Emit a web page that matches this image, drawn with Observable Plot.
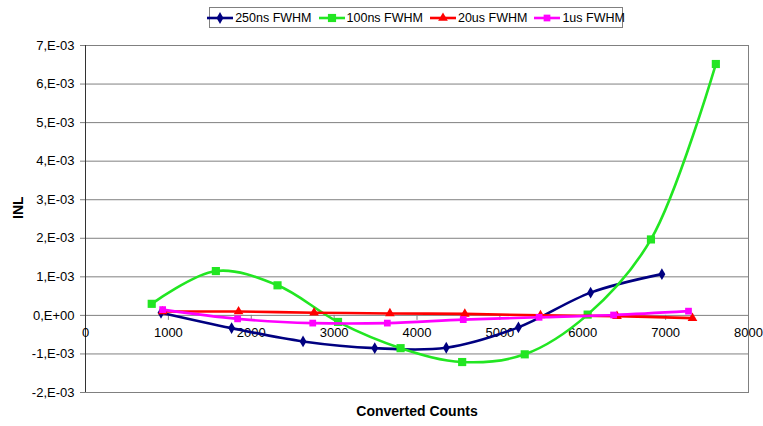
<!DOCTYPE html>
<html><head><meta charset="utf-8">
<script src="https://cdn.jsdelivr.net/npm/d3@7"></script>
<script src="https://cdn.jsdelivr.net/npm/@observablehq/plot@0.6"></script>
<style>
body{margin:0;background:#fff;font-family:"Liberation Sans",Arial,sans-serif;}
#legend{height:34px;position:relative;}
#legend .box{position:absolute;left:209px;top:7px;width:412px;height:19px;border:1px solid #808080;display:flex;align-items:center;justify-content:center;gap:7px;font-size:12.5px;color:#000;}
.item{display:flex;align-items:center;gap:2px;white-space:nowrap;}
.item svg{display:block;}
</style></head><body>
<div id="legend"><div class="box"></div></div>
<div id="chart"></div>
<script>
const seriesNames = ["250ns FWHM", "100ns FWHM", "20us FWHM", "1us FWHM"];
const seriesColors = ["#000080", "#22e622", "#ff0000", "#ff00ff"];
const seriesSymbols = ["diamond", "square", "triangle", "square"];
const seriesR = [3.6, 4.6, 3.6, 3.8];

const x250 = [911, 1763, 2625, 3490, 4353, 5224, 6095, 6955];
const y250 = [0.07e-3, -0.33e-3, -0.675e-3, -0.85e-3, -0.84e-3, -0.31e-3, 0.59e-3, 1.07e-3];

const x100 = [799, 1573, 2317, 3047, 3802, 4545, 5300, 6059, 6823, 7606];
const y100 = [0.30e-3, 1.15e-3, 0.78e-3, -0.17e-3, -0.85e-3, -1.21e-3, -1.01e-3, 0.02e-3, 1.97e-3, 6.52e-3];

const x20 = [931, 1847, 2758, 3673, 4577, 5490, 6413, 7324];
const y20 = [0.10e-3, 0.10e-3, 0.07e-3, 0.05e-3, 0.04e-3, 0.0e-3, -0.02e-3, -0.07e-3];

const x1 = [931, 1835, 2742, 3642, 4558, 5473, 6372, 7276];
const y1 = [0.15e-3, -0.09e-3, -0.2e-3, -0.2e-3, -0.11e-3, -0.05e-3, 0.01e-3, 0.11e-3];

const xTicks = [0, 1000, 2000, 3000, 4000, 5000, 6000, 7000, 8000];
const yTicks = [-2e-3, -1e-3, 0, 1e-3, 2e-3, 3e-3, 4e-3, 5e-3, 6e-3, 7e-3];

const xs = [x250, x100, x20, x1];
const ys = [y250, y100, y20, y1];
const data = seriesNames.map((name, s) => xs[s].map((x, i) => ({series: name, x, y: ys[s][i]})));

const fmtY = d => Math.abs(d) < 1e-9 ? "0,E+00" : Math.round(d * 1e3) + ",E-03";

const marks = [
  Plot.gridY(yTicks, {stroke: "#808080", strokeOpacity: 1}),
  Plot.frame({stroke: "#808080"}),
  Plot.ruleX([0], {stroke: "#333"}),
  Plot.axisY(yTicks, {tickFormat: fmtY, tickSize: 5, tickPadding: 6, label: null, stroke: "#808080", fill: "#000"}),
  Plot.ruleX(xTicks.slice(1, -1), {x: d => d, y1: 0, y2: 0, insetBottom: -5, stroke: "#808080"}),
  Plot.text(xTicks, {x: d => d, y: 0, dy: 17, text: d => String(d), fill: "#000"}),
  Plot.text(["Converted Counts"], {frameAnchor: "bottom", dy: 23, fontWeight: "bold", fontSize: 14, fill: "#000"}),
  Plot.text(["INL"], {frameAnchor: "left", dx: -67, rotate: -90, fontWeight: "bold", fontSize: 14, fill: "#000"})
];
data.forEach((d, s) => {
  marks.push(Plot.line(d, {x: "x", y: "y", stroke: seriesColors[s], strokeWidth: 2.6, curve: "catmull-rom"}));
  marks.push(Plot.dot(d, {x: "x", y: "y", symbol: seriesSymbols[s], r: seriesR[s], fill: seriesColors[s], stroke: "none"}));
});

const chart = Plot.plot({
  width: 763, height: 392,
  marginTop: 11, marginLeft: 85, marginRight: 15, marginBottom: 34,
  x: {domain: [0, 8000], axis: null},
  y: {domain: [-2e-3, 7e-3]},
  style: {fontFamily: '"Liberation Sans", Arial, sans-serif', fontSize: "13px", color: "#000", background: "#fff"},
  marks
});
document.getElementById("chart").appendChild(chart);

// legend
const box = document.querySelector("#legend .box");
seriesNames.forEach((name, s) => {
  const item = document.createElement("div");
  item.className = "item";
  const sym = {diamond: d3.symbolDiamond, square: d3.symbolSquare, triangle: d3.symbolTriangle}[seriesSymbols[s]];
  const path = d3.symbol(sym, Math.PI * seriesR[s] * seriesR[s])();
  item.innerHTML = `<svg width="26" height="12"><line x1="0" x2="26" y1="6" y2="6" stroke="${seriesColors[s]}" stroke-width="2.6"/><path d="${path}" transform="translate(13,6)" fill="${seriesColors[s]}"/></svg><span>${name}</span>`;
  box.appendChild(item);
});
</script>
</body></html>
